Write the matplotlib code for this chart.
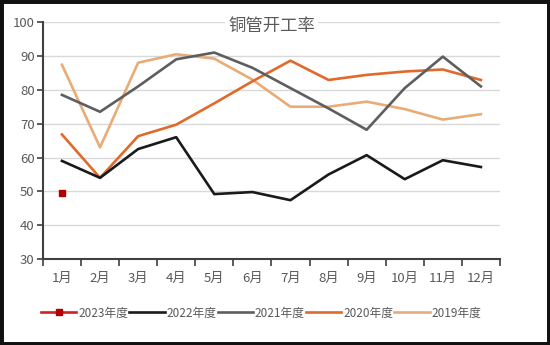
import matplotlib
matplotlib.use("Agg")
import matplotlib.pyplot as plt
from matplotlib.patches import Rectangle
import numpy as np

plt.rcParams['font.family'] = ['Noto Sans CJK SC', 'DejaVu Sans']

months = ['1月', '2月', '3月', '4月', '5月', '6月', '7月', '8月', '9月', '10月', '11月', '12月']
s2023 = [49.5]
s2022 = [59, 54, 62.5, 66, 49.2, 49.8, 47.4, 55, 60.7, 53.6, 59.2, 57.2]
s2021 = [78.5, 73.5, 81, 89, 91, 86.5, 80.5, 74.5, 68.2, 80.5, 89.8, 81]
s2020 = [66.8, 54, 66.3, 69.7, 76, 82.5, 88.6, 82.9, 84.4, 85.4, 86, 82.9]
s2019 = [87.4, 63, 88, 90.5, 89.2, 83, 75, 75, 76.5, 74.3, 71.2, 72.8]
title = '铜管开工率'
yticks = [30, 40, 50, 60, 70, 80, 90, 100]

fig = plt.figure(figsize=(5.5, 3.45), dpi=100)
ax = fig.add_axes([0.078, 0.249, 0.831, 0.687])

x = np.arange(len(months))
lw = 1.9
ax.plot(x, s2019, color='#E8AC76', lw=lw, label='2019年度', zorder=3)
ax.plot(x, s2020, color='#E06A2B', lw=lw, label='2020年度', zorder=4)
ax.plot(x, s2021, color='#5E5E60', lw=lw, label='2021年度', zorder=5)
ax.plot(x, s2022, color='#1A1A1A', lw=lw, label='2022年度', zorder=6)
ax.plot(x[:len(s2023)], s2023, color='#D42020', lw=lw, marker='s', ms=5,
        mfc='#B00000', mec='#B00000', label='2023年度', zorder=7)

ax.set_xlim(-0.5, 11.5)
ax.set_ylim(30, 100)
ax.set_yticks(yticks)
ax.set_xticks(x)
ax.set_xticklabels(months)
ax.set_xticks(np.arange(-0.5, 12, 1), minor=True)
ax.tick_params(axis='x', which='major', length=0, pad=9, labelsize=9.5, colors='#595959')
ax.tick_params(axis='x', which='minor', length=5, width=1.2, color='#404040', direction='out')
ax.tick_params(axis='y', length=4, width=1.2, color='#404040', labelsize=9.5, labelcolor='#595959', pad=2)
ax.grid(axis='y', color='#D9D9D9', lw=1.0, zorder=0)
for s in ['top', 'right']:
    ax.spines[s].set_visible(False)
for s in ['left', 'bottom']:
    ax.spines[s].set_color('#404040')
    ax.spines[s].set_linewidth(1.5)

ax.text(0.5, 0.985, title, transform=ax.transAxes, ha='center', va='center',
        fontsize=12.5, color='#595959', zorder=8,
        bbox=dict(facecolor='white', edgecolor='none', pad=2))

handles, labels = ax.get_legend_handles_labels()
order = [4, 3, 2, 1, 0]
fig.legend([handles[i] for i in order], [labels[i] for i in order],
           loc='center', bbox_to_anchor=(0.475, 0.093), ncol=5, frameon=False,
           fontsize=8.5, handlelength=3.0, handletextpad=0.15, columnspacing=0.1,
           labelcolor='#595959')

fig.patches.append(Rectangle((0, 0), 1, 1, transform=fig.transFigure, fill=False,
                             edgecolor='#111111', lw=5, zorder=10))

fig.savefig('out.png', dpi=100, facecolor='white')
